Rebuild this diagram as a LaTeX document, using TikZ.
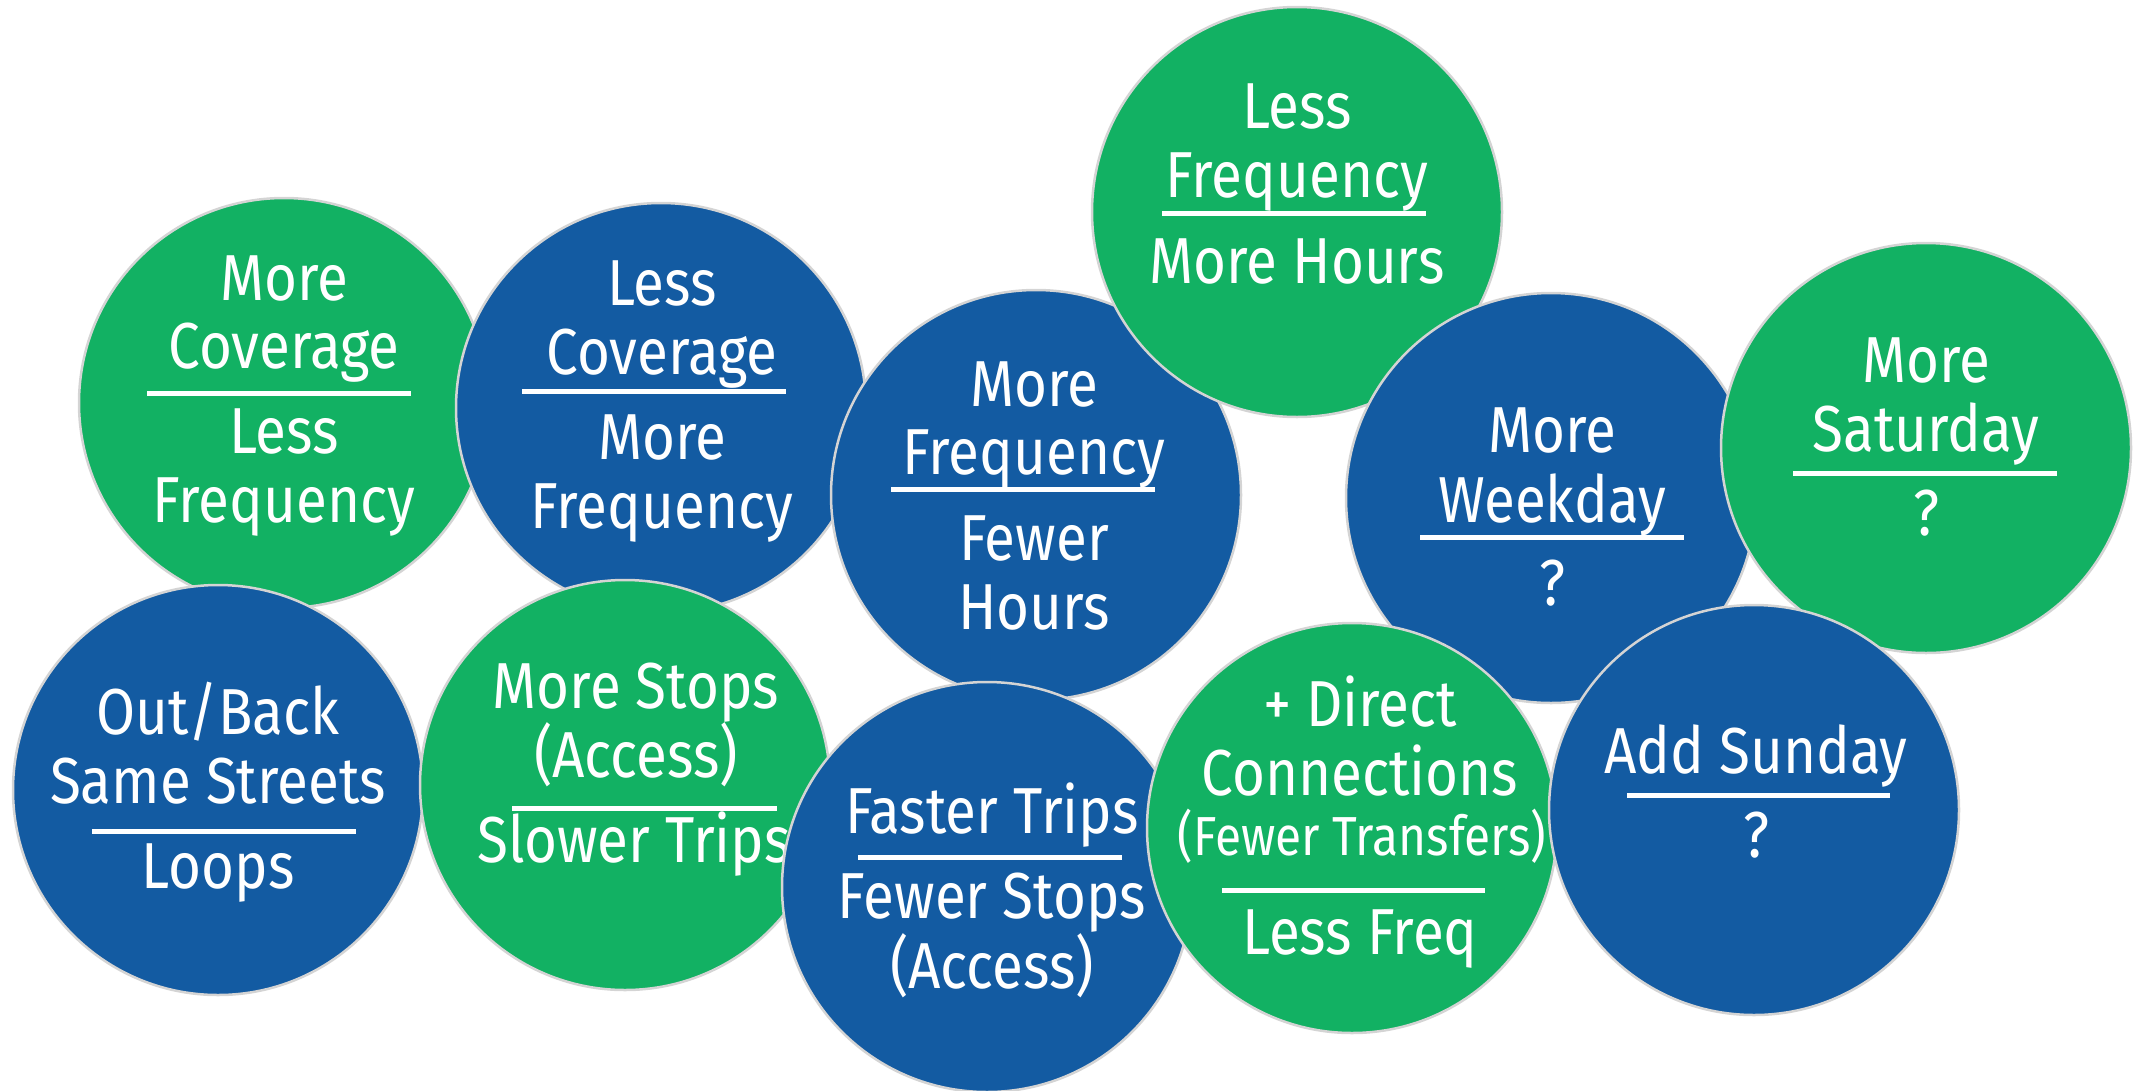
\documentclass[tikz,border=0pt]{standalone}
\usepackage{fontspec}
\setmainfont[FakeStretch=0.87]{Fira Sans}
\definecolor{cgreen}{HTML}{12B163}
\definecolor{cblue}{HTML}{135BA2}
\definecolor{cedge}{HTML}{D4D4D4}
\begin{document}
\begin{tikzpicture}[x=1pt,y=-1pt,
  bub/.style={circle, draw=cedge, line width=2.5pt, minimum size=410pt, inner sep=0pt},
  gbub/.style={bub, fill=cgreen},
  bbub/.style={bub, fill=cblue},
  txt/.style={text=white, font=\fontsize{65}{69}\selectfont, anchor=base, inner sep=0pt},
  smalltxt/.style={txt, font=\fontsize{55}{60}\selectfont},
  bar/.style={draw=white, line width=5pt}]
\useasboundingbox (0,0) rectangle (2143,1090);
% 1
\node (c1) [gbub] at (284,403) {};
\node (t1a) [txt] at (284,300) {More};
\node (t1b) [txt] at (284,368) {Coverage};
\draw[bar] (147,393) -- (411,393);
\node (t1c) [txt] at (284,453) {Less};
\node (t1d) [txt] at (284,522) {Frequency};
% 2
\node (c2) [bbub] at (661,408) {};
\node (t2a) [txt] at (662,305) {Less};
\node (t2b) [txt] at (662,374) {Coverage};
\draw[bar] (522,391) -- (786,391);
\node (t2c) [txt] at (662,459) {More};
\node (t2d) [txt] at (662,528) {Frequency};
% 3
\node (c3) [bbub] at (1036,495) {};
\node (t3a) [txt] at (1034,406) {More};
\node (t3b) [txt] at (1034,474) {Frequency};
\draw[bar] (891,489) -- (1155,489);
\node (t3c) [txt] at (1034,560) {Fewer};
\node (t3d) [txt] at (1034,629) {Hours};
% 4
\node (c4) [gbub] at (1297,212) {};
\node (t4a) [txt] at (1297,128) {Less};
\node (t4b) [txt] at (1297,197) {Frequency};
\draw[bar] (1162,213) -- (1426,213);
\node (t4c) [txt] at (1297,283) {More Hours};
% 5
\node (c5) [bbub] at (1551,498) {};
\node (t5a) [txt] at (1552,452) {More};
\node (t5b) [txt] at (1552,522) {Weekday};
\draw[bar] (1420,537) -- (1684,537);
\node (t5c) [txt] at (1552,605) {?};
% 6
\node (c6) [gbub] at (1926,448) {};
\node (t6a) [txt] at (1926,382) {More};
\node (t6b) [txt] at (1926,451) {Saturday};
\draw[bar] (1793,473) -- (2057,473);
\node (t6c) [txt] at (1926,535) {?};
% 7
\node (c7) [bbub] at (218,790) {};
\node (t7a) [txt] at (218,734) {Out/Back};
\node (t7b) [txt] at (218,803) {Same Streets};
\draw[bar] (92,831) -- (356,831);
\node (t7c) [txt] at (218,888) {Loops};
% 8
\node (c8) [gbub] at (625,785) {};
\node (t8a) [txt] at (636,708) {More Stops};
\node (t8b) [txt] at (636,777) {(Access)};
\draw[bar] (512,808) -- (777,808);
\node (t8c) [txt] at (634,862) {Slower Trips};
% 9
\node (c9) [bbub] at (987,887) {};
\node (t9a) [txt] at (992,833) {Faster Trips};
\draw[bar] (858,857) -- (1122,857);
\node (t9b) [txt] at (992,918) {Fewer Stops};
\node (t9c) [txt] at (992,988) {(Access)};
% 10
\node (c10) [gbub] at (1352,828) {};
\node (t10a) [txt] at (1360,726) {+ Direct};
\node (t10b) [txt] at (1360,795) {Connections};
\node (t10c) [smalltxt] at (1362,855) {(Fewer Transfers)};
\draw[bar] (1222,890) -- (1485,890);
\node (t10d) [txt] at (1360,954) {Less Freq};
% 11
\node (c11) [bbub] at (1754,810) {};
\node (t11a) [txt] at (1756,773) {Add Sunday};
\draw[bar] (1627,795) -- (1890,795);
\node (t11b) [txt] at (1756,857) {?};
\end{tikzpicture}
\end{document}
